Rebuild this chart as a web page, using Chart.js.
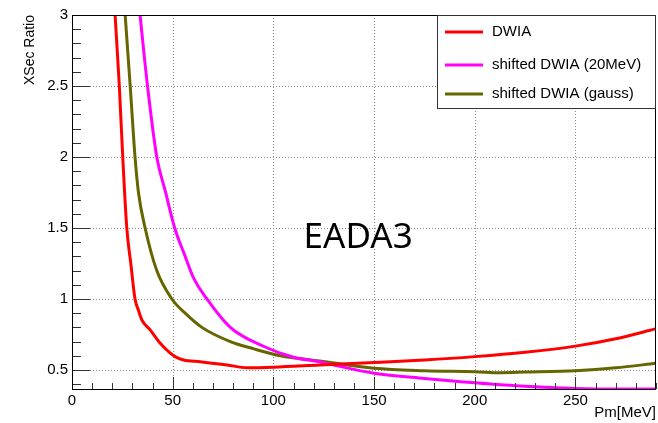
<!DOCTYPE html>
<html>
<head>
<meta charset="utf-8">
<script src="https://cdn.jsdelivr.net/npm/chart.js@4"></script>
<style>
  html, body { margin: 0; padding: 0; background: #fff; }
  canvas { display: block; }
</style>
</head>
<body>
<canvas id="chart" width="658" height="423"></canvas>
<script>
// values
const labels = ['DWIA', 'shifted DWIA (20MeV)', 'shifted DWIA (gauss)'];
const colors = ['#ff0000', '#ff00ff', '#666600'];

const xRed = [20, 21.4, 23.5, 25.2, 27.2, 29.2, 31.3, 33, 34.7, 38.8, 43.8, 48.8, 51.2, 55.4, 63.7, 77, 87, 100, 123, 150, 175, 200, 225, 250, 270, 290];
const yRed = [3.35, 3.0, 2.5, 2.0, 1.5, 1.25, 1.0, 0.92, 0.852, 0.782, 0.688, 0.618, 0.594, 0.570, 0.558, 0.535, 0.516, 0.52, 0.535, 0.552, 0.57, 0.594, 0.625, 0.668, 0.72, 0.79];

const xMag = [32, 33.8, 37.5, 42.1, 46.5, 51, 56.2, 60.3, 67, 78.6, 95, 110, 123, 130, 150, 175, 200, 225, 250, 270, 290];
const yMag = [3.25, 3.0, 2.5, 2.0, 1.75, 1.5, 1.3, 1.15, 1.0, 0.8, 0.667, 0.59, 0.558, 0.535, 0.477, 0.44, 0.41, 0.385, 0.37, 0.366, 0.366];

const xOlive = [25, 26.4, 28.9, 31.3, 33, 36.3, 42.1, 49.6, 56.2, 64.5, 78.6, 90, 103.5, 123, 150, 175, 200, 213, 225, 250, 270, 290];
const yOlive = [3.3, 3.0, 2.5, 2.0, 1.75, 1.5, 1.2, 1.0, 0.9, 0.8, 0.7, 0.65, 0.6, 0.563, 0.512, 0.495, 0.488, 0.481, 0.485, 0.495, 0.515, 0.547];

const xTicks = [0, 50, 100, 150, 200, 250];
const yTicks = [0.5, 1, 1.5, 2, 2.5, 3];
const tag = { text: 'EADA3', x: 115, y: 1.36 };

const FONT = "'Liberation Sans', Arial, sans-serif";

function pts(xs, ys) {
  return xs.map((x, i) => ({ x: x, y: ys[i] }));
}

// ROOT-like dotted grid, frame, inner ticks, legend box and text label
const rootDeco = {
  id: 'rootDeco',
  beforeDatasetsDraw(chart) {
    const ctx = chart.ctx;
    const a = chart.chartArea;
    const xs = chart.scales.x, ys = chart.scales.y;
    ctx.save();
    ctx.strokeStyle = '#888';
    ctx.lineWidth = 1;
    ctx.setLineDash([1, 2]);
    ctx.beginPath();
    xTicks.forEach(v => {
      const px = Math.round(xs.getPixelForValue(v)) + 0.5;
      ctx.moveTo(px, a.top);
      ctx.lineTo(px, a.bottom);
    });
    yTicks.forEach(v => {
      const py = Math.round(ys.getPixelForValue(v)) + 0.5;
      ctx.moveTo(a.left, py);
      ctx.lineTo(a.right, py);
    });
    ctx.stroke();
    ctx.restore();
  },
  afterDatasetsDraw(chart) {
    const ctx = chart.ctx;
    const a = chart.chartArea;
    const xs = chart.scales.x, ys = chart.scales.y;
    ctx.save();

    ctx.strokeStyle = '#333';
    ctx.lineWidth = 1;
    ctx.beginPath();
    for (let v = 0; v <= 290; v += 10) {
      const px = Math.round(xs.getPixelForValue(v)) + 0.5;
      const len = v % 50 === 0 ? 12 : 6;
      ctx.moveTo(px, a.bottom);
      ctx.lineTo(px, a.bottom - len);
    }
    for (let k = 4; k <= 30; k++) {
      const py = Math.round(ys.getPixelForValue(k / 10)) + 0.5;
      const len = k % 5 === 0 ? 18 : 9;
      ctx.moveTo(a.left, py);
      ctx.lineTo(a.left + len, py);
    }
    ctx.stroke();

    // frame
    ctx.strokeStyle = '#000';
    ctx.strokeRect(a.left + 0.5, a.top + 0.5, a.right - a.left - 1, a.bottom - a.top);

    // legend
    const bx = 437, by = a.top, bw = a.right - 437, bh = 93;
    ctx.fillStyle = '#fff';
    ctx.fillRect(bx + 0.5, by + 0.5, bw - 1, bh);
    ctx.strokeStyle = '#333';
    ctx.strokeRect(bx + 0.5, by + 0.5, bw - 1, bh);
    const rows = [32, 65, 94];
    ctx.font = '15px ' + FONT;
    ctx.textBaseline = 'middle';
    ctx.textAlign = 'left';
    chart.data.datasets.forEach((ds, i) => {
      ctx.strokeStyle = ds.borderColor;
      ctx.lineWidth = 3;
      ctx.beginPath();
      ctx.moveTo(445, rows[i]);
      ctx.lineTo(483, rows[i]);
      ctx.stroke();
      ctx.fillStyle = '#000';
      ctx.fillText(ds.label, 492, rows[i]);
    });

    // label
    ctx.font = "35px 'Noto Sans', sans-serif";
    ctx.textBaseline = 'alphabetic';
    ctx.fillStyle = '#000';
    ctx.fillText(tag.text, xs.getPixelForValue(tag.x), ys.getPixelForValue(tag.y));
    ctx.restore();
  }
};

const series = [pts(xRed, yRed), pts(xMag, yMag), pts(xOlive, yOlive)];

new Chart(document.getElementById('chart'), {
  type: 'line',
  data: {
    datasets: series.map((d, i) => ({
      label: labels[i],
      data: d,
      borderColor: colors[i],
      borderWidth: 3,
      pointRadius: 0,
      cubicInterpolationMode: 'monotone',
      clip: 0
    }))
  },
  options: {
    responsive: false,
    animation: false,
    devicePixelRatio: 1,
    layout: { padding: { top: 15, right: 2, left: 0, bottom: 0 } },
    plugins: { legend: { display: false }, tooltip: { enabled: false } },
    scales: {
      x: {
        type: 'linear',
        min: 0,
        max: 290,
        afterBuildTicks: s => { s.ticks = xTicks.map(v => ({ value: v })); },
        afterFit: s => { s.height = 34; },
        grid: { display: false, drawTicks: false },
        border: { display: false },
        ticks: { color: '#000', font: { family: FONT, size: 15 }, padding: 3, maxRotation: 0, autoSkip: false },
        title: { display: true, text: 'Pm[MeV]', align: 'end', color: '#000', font: { family: FONT, size: 15 }, padding: { top: 0, bottom: 1 } }
      },
      y: {
        type: 'linear',
        min: 0.366,
        max: 3,
        afterBuildTicks: s => { s.ticks = yTicks.map(v => ({ value: v })); },
        afterFit: s => { s.width = 72; },
        grid: { display: false, drawTicks: false },
        border: { display: false },
        ticks: { color: '#000', font: { family: FONT, size: 15 }, padding: 4, callback: v => String(v) },
        title: { display: true, text: 'XSec Ratio', align: 'end', color: '#000', font: { family: FONT, size: 14 }, padding: { top: 22, bottom: 0 } }
      }
    }
  },
  plugins: [rootDeco]
});
</script>
</body>
</html>
